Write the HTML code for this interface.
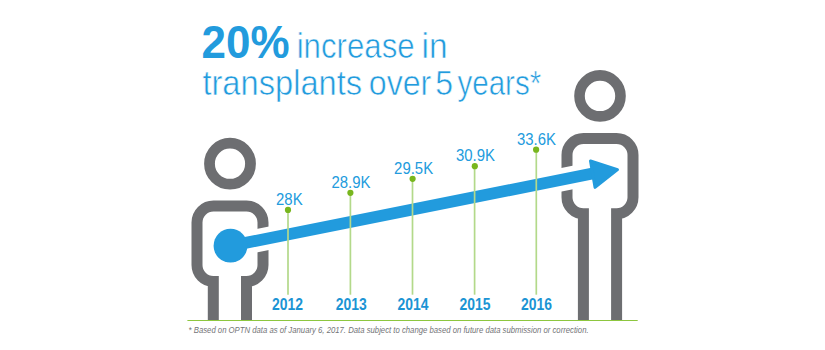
<!DOCTYPE html>
<html><head><meta charset="utf-8">
<style>
html,body{margin:0;padding:0;background:#fff;width:825px;height:350px;overflow:hidden;}
svg{display:block;}
text{font-family:"Liberation Sans",sans-serif;}
</style></head>
<body>
<svg width="825" height="350" viewBox="0 0 825 350">
  <!-- title -->
  <text x="201.5" y="58" font-size="46.5" font-weight="bold" fill="#229bdd" textLength="88" lengthAdjust="spacingAndGlyphs">20%</text>
  <g font-size="35.5" fill="#229bdd" stroke="#fff" stroke-width="0.6" lengthAdjust="spacingAndGlyphs">
    <text x="296.7" y="58" textLength="118.0" lengthAdjust="spacingAndGlyphs">increase</text>
    <text x="421.6" y="58" textLength="26.1" lengthAdjust="spacingAndGlyphs">in</text>
    <text x="202.4" y="94.5" textLength="159.8" lengthAdjust="spacingAndGlyphs">transplants</text>
    <text x="368.8" y="94.5" textLength="62.5" lengthAdjust="spacingAndGlyphs">over</text>
    <text x="435.3" y="94.5" textLength="17.8" lengthAdjust="spacingAndGlyphs">5</text>
    <text x="457.5" y="94.5" textLength="83.7" lengthAdjust="spacingAndGlyphs">years*</text>
  </g>

  <!-- persons -->
  <g fill="none" stroke="#6d6e71" stroke-width="11">
    <circle cx="230" cy="163.7" r="20.5" stroke-width="10.8"/>
    <path d="M213.3 320 V281.5 A16.3 16.5 0 0 1 197 265 V222.5 A16.5 16.5 0 0 1 213.5 206 H246.5 A16.5 16.5 0 0 1 263 222.5 V265 A16.5 16.5 0 0 1 246.5 281.5 V320"/>
    <circle cx="600" cy="95.9" r="20.5" stroke-width="10.6"/>
    <path d="M583.4 320 V213.8 A16.5 16.5 0 0 1 567 197.3 V155 A16.5 16.5 0 0 1 583.5 138.5 H616.5 A16.5 16.5 0 0 1 633 155 V197.3 A16.5 16.5 0 0 1 616.6 213.8 V320"/>
  </g>

  <!-- white gap around shaft -->
  <line x1="230.5" y1="245.9" x2="592" y2="173.6" stroke="#fff" stroke-width="23"/>
  <!-- arrow -->
  <line x1="230.5" y1="245.9" x2="600" y2="172" stroke="#229bdd" stroke-width="11.8"/>
  <circle cx="230.5" cy="245.7" r="16.9" fill="#229bdd"/>
  <polygon points="590.5,161 617.5,169.6 595,187.3" fill="#229bdd" stroke="#229bdd" stroke-width="3" stroke-linejoin="round"/>

  <!-- baseline -->
  <line x1="187.4" y1="320.5" x2="637.7" y2="320.5" stroke="#8dc63f" stroke-width="1.1"/>

  <!-- stems -->
  <g stroke="#b3d98a" stroke-width="1.7">
    <line x1="288" y1="210" x2="288" y2="294.7"/>
    <line x1="350.4" y1="193" x2="350.4" y2="294.7"/>
    <line x1="412.5" y1="179" x2="412.5" y2="294.7"/>
    <line x1="474.6" y1="166" x2="474.6" y2="294.7"/>
    <line x1="536.3" y1="150" x2="536.3" y2="294.7"/>
  </g>
  <g fill="#78b61e">
    <circle cx="288" cy="209.9" r="3.1"/>
    <circle cx="350.4" cy="192.8" r="3.1"/>
    <circle cx="412.6" cy="178.8" r="3.1"/>
    <circle cx="474.8" cy="166.2" r="3.1"/>
    <circle cx="536.1" cy="149.7" r="3.1"/>
  </g>

  <!-- data labels -->
  <g font-size="15.6" fill="#229bdd" text-anchor="middle">
    <text x="289.3" y="204.5" textLength="26.6" lengthAdjust="spacingAndGlyphs">28K</text>
    <text x="350.9" y="187.6" textLength="39" lengthAdjust="spacingAndGlyphs">28.9K</text>
    <text x="413.6" y="173.7" textLength="39" lengthAdjust="spacingAndGlyphs">29.5K</text>
    <text x="475.4" y="161.2" textLength="39" lengthAdjust="spacingAndGlyphs">30.9K</text>
    <text x="536.5" y="145.1" textLength="39" lengthAdjust="spacingAndGlyphs">33.6K</text>
  </g>
  <g font-size="17" font-weight="bold" fill="#1b94d4" text-anchor="middle">
    <text x="287.5" y="309.9" textLength="31" lengthAdjust="spacingAndGlyphs">2012</text>
    <text x="351.2" y="309.9" textLength="31" lengthAdjust="spacingAndGlyphs">2013</text>
    <text x="413" y="309.9" textLength="31" lengthAdjust="spacingAndGlyphs">2014</text>
    <text x="475" y="309.9" textLength="31" lengthAdjust="spacingAndGlyphs">2015</text>
    <text x="536.5" y="309.9" textLength="31" lengthAdjust="spacingAndGlyphs">2016</text>
  </g>
  <text x="188.6" y="332.8" font-size="8.2" font-style="italic" fill="#737477" textLength="400" lengthAdjust="spacingAndGlyphs">* Based on OPTN data as of January 6, 2017. Data subject to change based on future data submission or correction.</text>
</svg>
</body></html>
